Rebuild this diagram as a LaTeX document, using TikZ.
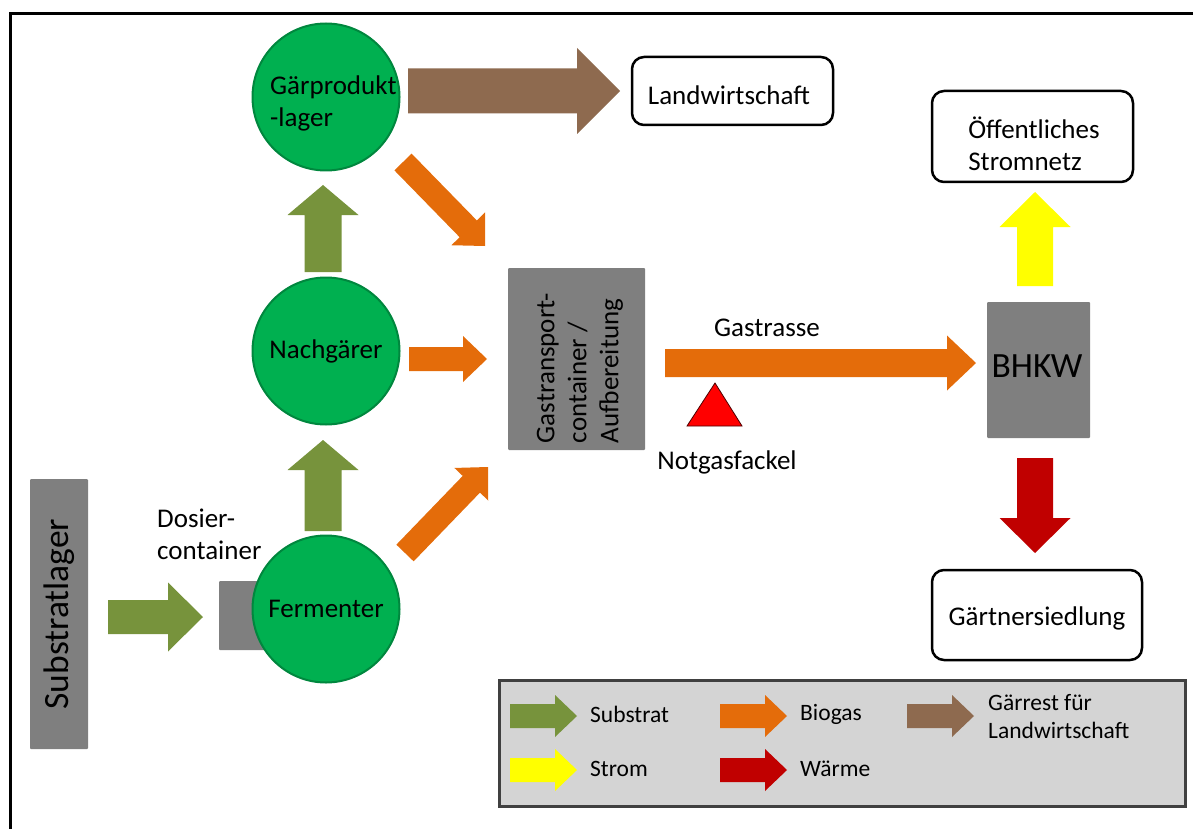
\documentclass[tikz,border=0pt]{standalone}
\usepackage{fontspec}
\setmainfont{Carlito}
\usetikzlibrary{calc}
\definecolor{sgreen}{HTML}{77933C}
\definecolor{cgreen}{HTML}{00B050}
\definecolor{cgreendark}{HTML}{00873E}
\definecolor{corange}{HTML}{E46C0A}
\definecolor{cbrown}{HTML}{8E6A4F}
\definecolor{cyellow}{HTML}{FFFF00}
\definecolor{cred}{HTML}{C00000}
\definecolor{cgray}{HTML}{7F7F7F}
\definecolor{legfill}{HTML}{D4D4D4}
\definecolor{legborder}{HTML}{404040}
% block arrow: from, to, shaft half width, head half width, head length, colour
\newcommand\barrow[6]{%
  \coordinate (ba-h) at ($(#2)!#5!(#1)$);
  \fill[#6] ($(#1)!#3!90:(#2)$) -- ($(ba-h)!#3!90:(#2)$) -- ($(ba-h)!#4!90:(#2)$) -- (#2)
    -- ($(ba-h)!#4!-90:(#2)$) -- ($(ba-h)!#3!-90:(#2)$) -- ($(#1)!#3!-90:(#2)$) -- cycle;}
\tikzset{
  tank/.style={circle, fill=cgreen, draw=cgreendark, line width=2pt, minimum size=147pt, inner sep=0pt},
  greybox/.style={fill=cgray, inner sep=0pt, rounded corners=1pt},
  endbox/.style={draw=black, line width=2.5pt, rounded corners=12pt, fill=white, inner sep=0pt},
  lbl/.style={font=\fontsize{27}{32}\selectfont, inner sep=0pt},
  biglbl/.style={font=\fontsize{35.5}{40}\selectfont, inner sep=0pt},
  leglbl/.style={font=\fontsize{23.5}{28}\selectfont, inner sep=0pt, anchor=west, align=left},
}
\begin{document}
\begin{tikzpicture}[x=1pt, y=-1pt]
\useasboundingbox (0,0) rectangle (1193,829);
% frame
\draw[line width=3pt] (10,829) -- (10,14) -- (1193,14);

% grey boxes
\node[greybox, rotate=90, minimum width=270pt, minimum height=58pt, biglbl] (sl) at (59,614) {Substratlager};
\node[greybox, minimum width=81pt, minimum height=69pt] (dc) at (259.5,615.5) {};
\node[greybox, minimum width=137pt, minimum height=182pt] (gt) at (576.5,359) {};
\node[lbl, rotate=90, align=left] (gttext) at (580,368) {Gastransport-\\container /\\Aufbereitung};
\node[greybox, minimum width=103pt, minimum height=136pt] (bhkw) at (1038.5,370) {};
\node[biglbl] (bhkwtext) at (1037,366) {BHKW};

% tanks
\node[tank] (gp) at (326,97) {};
\node[lbl, align=left, anchor=west] (gptext) at (270,103) {Gärprodukt\\-lager};
\node[tank, lbl] (ng) at (326,351) {Nachgärer};
\node[tank, lbl] (fe) at (326,609) {Fermenter};

% end boxes
\node[endbox, minimum width=201pt, minimum height=68pt] (lw) at (732.5,91) {};
\node[lbl] (lwtext) at (729,95) {Landwirtschaft};
\node[endbox, minimum width=201pt, minimum height=91pt] (sn) at (1032.5,136.5) {};
\node[lbl, align=left] (sntext) at (1034,144) {Öffentliches\\Stromnetz};
\node[endbox, minimum width=210pt, minimum height=90pt] (gs) at (1037,615) {};
\node[lbl] (gstext) at (1037,618) {Gärtnersiedlung};

% labels
\node[lbl, align=left, anchor=west] (dctext) at (157,534) {Dosier-\\container};
\node[lbl] (gastrasse) at (767,328) {Gastrasse};
\node[lbl] (notgas) at (727,462) {Notgasfackel};

% flare triangle
\draw[fill=red, draw=black!70!red, line width=0.8pt] (715,383) -- (742,426) -- (687,426) -- cycle;

% arrow end points
\coordinate (a1s) at (108,617);   \coordinate (a1e) at (203,617);
\coordinate (a2s) at (323,531);   \coordinate (a2e) at (323,440);
\coordinate (a3s) at (323,272);   \coordinate (a3e) at (323,185);
\coordinate (a4s) at (408,91);    \coordinate (a4e) at (620,91);
\coordinate (a5s) at (403,162);   \coordinate (a5e) at (485,246);
\coordinate (a6s) at (409,359);   \coordinate (a6e) at (487,359);
\coordinate (a7s) at (405,553);   \coordinate (a7e) at (488,467);
\coordinate (a8s) at (665,363);   \coordinate (a8e) at (976,363);
\coordinate (a9s) at (1035,286);  \coordinate (a9e) at (1035,192);
\coordinate (a10s) at (1035,458); \coordinate (a10e) at (1035,553);

\barrow{a1s}{a1e}{17pt}{34.5pt}{35pt}{sgreen}
\barrow{a2s}{a2e}{18.5pt}{35.5pt}{30pt}{sgreen}
\barrow{a3s}{a3e}{18.5pt}{35.5pt}{30pt}{sgreen}
\barrow{a4s}{a4e}{22.5pt}{43pt}{43pt}{cbrown}
\barrow{a5s}{a5e}{12pt}{23.5pt}{24pt}{corange}
\barrow{a6s}{a6e}{12pt}{23pt}{24pt}{corange}
\barrow{a7s}{a7e}{12pt}{23.5pt}{24pt}{corange}
\barrow{a8s}{a8e}{14pt}{27.5pt}{29pt}{corange}
\barrow{a9s}{a9e}{18pt}{35.5pt}{35pt}{cyellow}
\barrow{a10s}{a10e}{18pt}{35.5pt}{35pt}{cred}

% legend
\node[fill=legfill, draw=legborder, line width=3pt, minimum width=686pt, minimum height=126pt, inner sep=0pt] (legend) at (842,743) {};
\coordinate (l1s) at (510,716); \coordinate (l1e) at (577,716);
\coordinate (l2s) at (720,716); \coordinate (l2e) at (787,716);
\coordinate (l3s) at (907,716); \coordinate (l3e) at (974,716);
\coordinate (l4s) at (510,770); \coordinate (l4e) at (577,770);
\coordinate (l5s) at (720,770); \coordinate (l5e) at (787,770);
\barrow{l1s}{l1e}{12pt}{21pt}{22pt}{sgreen}
\barrow{l2s}{l2e}{12pt}{21pt}{22pt}{corange}
\barrow{l3s}{l3e}{12pt}{21pt}{22pt}{cbrown}
\barrow{l4s}{l4e}{12pt}{21pt}{22pt}{cyellow}
\barrow{l5s}{l5e}{12pt}{21pt}{22pt}{cred}
\node[leglbl] (lt1) at (590,714) {Substrat};
\node[leglbl] (lt2) at (800,714) {Biogas};
\node[leglbl] (lt3) at (988,717) {Gärrest für\\Landwirtschaft};
\node[leglbl] (lt4) at (590,769) {Strom};
\node[leglbl] (lt5) at (800,769) {Wärme};
\end{tikzpicture}
\end{document}
